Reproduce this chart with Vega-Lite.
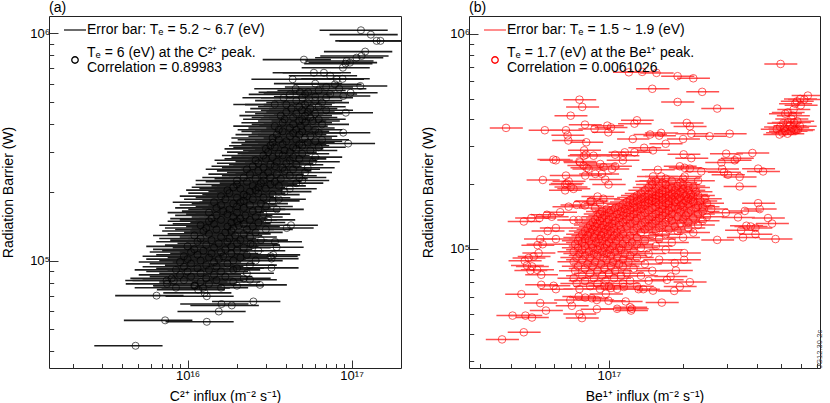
{
"$schema":"https://vega.github.io/schema/vega-lite/v6.json",
"padding":{"left":1,"top":0,"right":0,"bottom":0},
"spacing":19,
"config":{
 "font":"Liberation Sans",
 "view":{"stroke":"#222","strokeWidth":1},
 "axis":{"grid":false,"domain":false,"labelFont":"Liberation Sans","titleFont":"Liberation Sans","labelFontSize":13,"titleFontSize":14,"titleFontWeight":"normal","labelColor":"#000","titleColor":"#000","tickColor":"#333","tickWidth":1,"labelOverlap":false,"labelFlush":false},
 "title":{"fontSize":14,"fontWeight":"normal","anchor":"start","frame":"group","offset":1.5,"font":"Liberation Sans"}
},
"resolve":{"scale":{"stroke":"independent"},"legend":{"stroke":"independent"}},
"datasets":{
"a":[
{"x":8.5e15,"l":4.76e15,"h":1.24e16,"y":7.6e4},{"x":1.6e16,"l":8.96e15,"h":2.34e16,"y":7.6e4},
{"x":1.1e16,"l":6.16e15,"h":1.61e16,"y":7.75e4},{"x":2e16,"l":1.12e16,"h":2.92e16,"y":7.75e4},
{"x":7.5e15,"l":4.2e15,"h":1.1e16,"y":7.9e4},{"x":1.35e16,"l":7.56e15,"h":1.97e16,"y":7.9e4},
{"x":1.2e16,"l":6.72e15,"h":1.75e16,"y":8.05e4},{"x":1.9e16,"l":1.06e16,"h":2.77e16,"y":8.05e4},
{"x":9.5e15,"l":5.32e15,"h":1.39e16,"y":8.2e4},{"x":1.5e16,"l":8.4e15,"h":2.19e16,"y":8.2e4},
{"x":8e15,"l":4.48e15,"h":1.17e16,"y":8.35e4},{"x":1.3e16,"l":7.28e15,"h":1.9e16,"y":8.35e4},{"x":2.2e16,"l":1.23e16,"h":3.21e16,"y":8.35e4},
{"x":1.05e16,"l":5.88e15,"h":1.53e16,"y":8.5e4},{"x":1.7e16,"l":9.52e15,"h":2.48e16,"y":8.5e4},
{"x":9e15,"l":5.04e15,"h":1.31e16,"y":8.65e4},{"x":1.45e16,"l":8.12e15,"h":2.12e16,"y":8.65e4},
{"x":1.2e16,"l":6.72e15,"h":1.75e16,"y":8.8e4},{"x":2.3e16,"l":1.29e16,"h":3.36e16,"y":8.8e4},
{"x":1e16,"l":5.6e15,"h":1.46e16,"y":8.95e4},{"x":1.6e16,"l":8.96e15,"h":2.34e16,"y":8.95e4},
{"x":8.5e15,"l":4.76e15,"h":1.24e16,"y":9.1e4},{"x":1.35e16,"l":7.56e15,"h":1.97e16,"y":9.1e4},{"x":1.9e16,"l":1.06e16,"h":2.77e16,"y":9.1e4},
{"x":1.15e16,"l":6.44e15,"h":1.68e16,"y":9.25e4},{"x":2e16,"l":1.12e16,"h":2.92e16,"y":9.25e4},
{"x":9.5e15,"l":5.32e15,"h":1.39e16,"y":9.4e4},{"x":1.5e16,"l":8.4e15,"h":2.19e16,"y":9.4e4},
{"x":1.3e16,"l":7.28e15,"h":1.9e16,"y":9.55e4},{"x":2.4e16,"l":1.34e16,"h":3.5e16,"y":9.55e4},
{"x":1.05e16,"l":5.88e15,"h":1.53e16,"y":9.7e4},{"x":1.75e16,"l":9.8e15,"h":2.56e16,"y":9.7e4},
{"x":9e15,"l":5.04e15,"h":1.31e16,"y":9.85e4},{"x":1.45e16,"l":8.12e15,"h":2.12e16,"y":9.85e4},
{"x":1.2e16,"l":6.72e15,"h":1.75e16,"y":1e5},{"x":1.9e16,"l":1.06e16,"h":2.77e16,"y":1e5},{"x":2.6e16,"l":1.46e16,"h":3.8e16,"y":1e5},
{"x":1e16,"l":5.6e15,"h":1.46e16,"y":1.015e5},{"x":1.55e16,"l":8.68e15,"h":2.26e16,"y":1.015e5},
{"x":1.35e16,"l":7.56e15,"h":1.97e16,"y":1.03e5},{"x":2.1e16,"l":1.18e16,"h":3.07e16,"y":1.03e5},
{"x":9.5e15,"l":5.32e15,"h":1.39e16,"y":1.045e5},{"x":1.65e16,"l":9.24e15,"h":2.41e16,"y":1.045e5},
{"x":1.15e16,"l":6.44e15,"h":1.68e16,"y":1.06e5},{"x":2.3e16,"l":1.29e16,"h":3.36e16,"y":1.06e5},
{"x":1.4e16,"l":7.84e15,"h":2.04e16,"y":1.075e5},{"x":1.85e16,"l":1.04e16,"h":2.7e16,"y":1.075e5},
{"x":1.05e16,"l":5.88e15,"h":1.53e16,"y":1.09e5},{"x":1.6e16,"l":8.96e15,"h":2.34e16,"y":1.09e5},
{"x":1.25e16,"l":7e15,"h":1.83e16,"y":1.105e5},{"x":2e16,"l":1.12e16,"h":2.92e16,"y":1.105e5},{"x":2.7e16,"l":1.51e16,"h":3.94e16,"y":1.105e5},
{"x":1.1e16,"l":6.16e15,"h":1.61e16,"y":1.12e5},{"x":1.7e16,"l":9.52e15,"h":2.48e16,"y":1.12e5},
{"x":1.45e16,"l":8.12e15,"h":2.12e16,"y":1.14e5},{"x":2.2e16,"l":1.23e16,"h":3.21e16,"y":1.14e5},
{"x":1e16,"l":5.6e15,"h":1.46e16,"y":1.155e5},{"x":1.85e16,"l":1.04e16,"h":2.7e16,"y":1.155e5},
{"x":1.3e16,"l":7.28e15,"h":1.9e16,"y":1.17e5},{"x":2.5e16,"l":1.4e16,"h":3.65e16,"y":1.17e5},
{"x":1.55e16,"l":8.68e15,"h":2.26e16,"y":1.19e5},{"x":2e16,"l":1.12e16,"h":2.92e16,"y":1.19e5},
{"x":1.15e16,"l":6.44e15,"h":1.68e16,"y":1.21e5},{"x":1.75e16,"l":9.8e15,"h":2.56e16,"y":1.21e5},
{"x":1.4e16,"l":7.84e15,"h":2.04e16,"y":1.23e5},{"x":2.1e16,"l":1.18e16,"h":3.07e16,"y":1.23e5},{"x":2.8e16,"l":1.57e16,"h":4.09e16,"y":1.23e5},
{"x":1.2e16,"l":6.72e15,"h":1.75e16,"y":1.25e5},{"x":1.8e16,"l":1.01e16,"h":2.63e16,"y":1.25e5},
{"x":1.6e16,"l":8.96e15,"h":2.34e16,"y":1.27e5},{"x":2.4e16,"l":1.34e16,"h":3.5e16,"y":1.27e5},
{"x":1.1e16,"l":6.16e15,"h":1.61e16,"y":1.29e5},{"x":1.95e16,"l":1.09e16,"h":2.85e16,"y":1.29e5},
{"x":1.35e16,"l":7.56e15,"h":1.97e16,"y":1.31e5},{"x":2.2e16,"l":1.23e16,"h":3.21e16,"y":1.31e5},
{"x":1.7e16,"l":9.52e15,"h":2.48e16,"y":1.33e5},{"x":2.6e16,"l":1.46e16,"h":3.8e16,"y":1.33e5},
{"x":1.25e16,"l":7e15,"h":1.83e16,"y":1.35e5},{"x":1.85e16,"l":1.04e16,"h":2.7e16,"y":1.35e5},
{"x":1.5e16,"l":8.4e15,"h":2.19e16,"y":1.37e5},{"x":2.3e16,"l":1.29e16,"h":3.36e16,"y":1.37e5},{"x":3e16,"l":1.68e16,"h":4.38e16,"y":1.37e5},
{"x":1.3e16,"l":7.28e15,"h":1.9e16,"y":1.39e5},{"x":1.9e16,"l":1.06e16,"h":2.77e16,"y":1.39e5},
{"x":1.75e16,"l":9.8e15,"h":2.56e16,"y":1.41e5},{"x":2.5e16,"l":1.4e16,"h":3.65e16,"y":1.41e5},
{"x":1.2e16,"l":6.72e15,"h":1.75e16,"y":1.43e5},{"x":2.05e16,"l":1.15e16,"h":2.99e16,"y":1.43e5},
{"x":1.45e16,"l":8.12e15,"h":2.12e16,"y":1.45e5},{"x":2.2e16,"l":1.23e16,"h":3.21e16,"y":1.45e5},
{"x":1.85e16,"l":1.04e16,"h":2.7e16,"y":1.47e5},{"x":2.7e16,"l":1.51e16,"h":3.94e16,"y":1.47e5},
{"x":1.35e16,"l":7.56e15,"h":1.97e16,"y":1.49e5},{"x":2e16,"l":1.12e16,"h":2.92e16,"y":1.49e5},
{"x":1.6e16,"l":8.96e15,"h":2.34e16,"y":1.51e5},{"x":2.4e16,"l":1.34e16,"h":3.5e16,"y":1.51e5},{"x":3.1e16,"l":1.74e16,"h":4.53e16,"y":1.51e5},
{"x":1.4e16,"l":7.84e15,"h":2.04e16,"y":1.53e5},{"x":2.1e16,"l":1.18e16,"h":3.07e16,"y":1.53e5},
{"x":1.9e16,"l":1.06e16,"h":2.77e16,"y":1.555e5},{"x":2.6e16,"l":1.46e16,"h":3.8e16,"y":1.555e5},
{"x":1.5e16,"l":8.4e15,"h":2.19e16,"y":1.58e5},{"x":2.25e16,"l":1.26e16,"h":3.29e16,"y":1.58e5},
{"x":1.75e16,"l":9.8e15,"h":2.56e16,"y":1.6e5},{"x":2.9e16,"l":1.62e16,"h":4.23e16,"y":1.6e5},
{"x":1.35e16,"l":7.56e15,"h":1.97e16,"y":1.625e5},{"x":2e16,"l":1.12e16,"h":2.92e16,"y":1.625e5},
{"x":1.65e16,"l":9.24e15,"h":2.41e16,"y":1.65e5},{"x":2.5e16,"l":1.4e16,"h":3.65e16,"y":1.65e5},
{"x":1.8e16,"l":1.01e16,"h":2.63e16,"y":1.68e5},{"x":2.7e16,"l":1.51e16,"h":3.94e16,"y":1.68e5},{"x":3.5e16,"l":1.96e16,"h":5.11e16,"y":1.68e5},
{"x":1.5e16,"l":8.4e15,"h":2.19e16,"y":1.705e5},{"x":2.2e16,"l":1.23e16,"h":3.21e16,"y":1.705e5},
{"x":2e16,"l":1.12e16,"h":2.92e16,"y":1.73e5},{"x":3e16,"l":1.68e16,"h":4.38e16,"y":1.73e5},
{"x":1.6e16,"l":8.96e15,"h":2.34e16,"y":1.755e5},{"x":2.4e16,"l":1.34e16,"h":3.5e16,"y":1.755e5},
{"x":1.9e16,"l":1.06e16,"h":2.77e16,"y":1.78e5},{"x":2.8e16,"l":1.57e16,"h":4.09e16,"y":1.78e5},
{"x":1.45e16,"l":8.12e15,"h":2.12e16,"y":1.805e5},{"x":2.1e16,"l":1.18e16,"h":3.07e16,"y":1.805e5},
{"x":2.2e16,"l":1.23e16,"h":3.21e16,"y":1.83e5},{"x":3.3e16,"l":1.85e16,"h":4.82e16,"y":1.83e5},
{"x":1.7e16,"l":9.52e15,"h":2.48e16,"y":1.86e5},{"x":2.5e16,"l":1.4e16,"h":3.65e16,"y":1.86e5},{"x":3.6e16,"l":2.02e16,"h":5.26e16,"y":1.86e5},
{"x":2e16,"l":1.12e16,"h":2.92e16,"y":1.89e5},{"x":2.9e16,"l":1.62e16,"h":4.23e16,"y":1.89e5},
{"x":1.6e16,"l":8.96e15,"h":2.34e16,"y":1.92e5},{"x":2.3e16,"l":1.29e16,"h":3.36e16,"y":1.92e5},
{"x":2.2e16,"l":1.23e16,"h":3.21e16,"y":1.95e5},{"x":3.3e16,"l":1.85e16,"h":4.82e16,"y":1.95e5},
{"x":1.8e16,"l":1.01e16,"h":2.63e16,"y":1.98e5},{"x":2.7e16,"l":1.51e16,"h":3.94e16,"y":1.98e5},
{"x":2.4e16,"l":1.34e16,"h":3.5e16,"y":2.01e5},{"x":3.9e16,"l":2.18e16,"h":5.69e16,"y":2.01e5},
{"x":1.75e16,"l":9.8e15,"h":2.56e16,"y":2.04e5},{"x":2.6e16,"l":1.46e16,"h":3.8e16,"y":2.04e5},
{"x":2.1e16,"l":1.18e16,"h":3.07e16,"y":2.07e5},{"x":3e16,"l":1.68e16,"h":4.38e16,"y":2.07e5},{"x":4.2e16,"l":2.35e16,"h":6.13e16,"y":2.07e5},
{"x":1.9e16,"l":1.06e16,"h":2.77e16,"y":2.1e5},{"x":2.7e16,"l":1.51e16,"h":3.94e16,"y":2.1e5},
{"x":2.5e16,"l":1.4e16,"h":3.65e16,"y":2.13e5},{"x":3.6e16,"l":2.02e16,"h":5.26e16,"y":2.13e5},
{"x":2e16,"l":1.12e16,"h":2.92e16,"y":2.16e5},{"x":3.2e16,"l":1.79e16,"h":4.67e16,"y":2.16e5},
{"x":2.8e16,"l":1.57e16,"h":4.09e16,"y":2.19e5},{"x":4.6e16,"l":2.58e16,"h":6.72e16,"y":2.19e5},
{"x":2.3e16,"l":1.29e16,"h":3.36e16,"y":2.22e5},{"x":3.4e16,"l":1.9e16,"h":4.96e16,"y":2.22e5},
{"x":2e16,"l":1.12e16,"h":2.92e16,"y":2.25e5},{"x":2.9e16,"l":1.62e16,"h":4.23e16,"y":2.25e5},{"x":5e16,"l":2.8e16,"h":7.3e16,"y":2.25e5},
{"x":2.6e16,"l":1.46e16,"h":3.8e16,"y":2.29e5},{"x":3.7e16,"l":2.07e16,"h":5.4e16,"y":2.29e5},
{"x":2.2e16,"l":1.23e16,"h":3.21e16,"y":2.32e5},{"x":3.2e16,"l":1.79e16,"h":4.67e16,"y":2.32e5},{"x":4.8e16,"l":2.69e16,"h":7.01e16,"y":2.32e5},
{"x":2.9e16,"l":1.62e16,"h":4.23e16,"y":2.36e5},{"x":4.2e16,"l":2.35e16,"h":6.13e16,"y":2.36e5},
{"x":2.4e16,"l":1.34e16,"h":3.5e16,"y":2.4e5},{"x":3.5e16,"l":1.96e16,"h":5.11e16,"y":2.4e5},
{"x":3.1e16,"l":1.74e16,"h":4.53e16,"y":2.44e5},{"x":5.2e16,"l":2.91e16,"h":7.59e16,"y":2.44e5},
{"x":2.7e16,"l":1.51e16,"h":3.94e16,"y":2.48e5},{"x":3.9e16,"l":2.18e16,"h":5.69e16,"y":2.48e5},
{"x":2.3e16,"l":1.29e16,"h":3.36e16,"y":2.52e5},{"x":4.4e16,"l":2.46e16,"h":6.42e16,"y":2.52e5},
{"x":2.9e16,"l":1.62e16,"h":4.23e16,"y":2.56e5},{"x":3.8e16,"l":2.13e16,"h":5.55e16,"y":2.56e5},{"x":5.4e16,"l":3.02e16,"h":7.88e16,"y":2.56e5},
{"x":2.5e16,"l":1.4e16,"h":3.65e16,"y":2.6e5},{"x":3.4e16,"l":1.9e16,"h":4.96e16,"y":2.6e5},
{"x":3.2e16,"l":1.79e16,"h":4.67e16,"y":2.64e5},{"x":4.6e16,"l":2.58e16,"h":6.72e16,"y":2.64e5},
{"x":2.7e16,"l":1.51e16,"h":3.94e16,"y":2.68e5},{"x":4e16,"l":2.24e16,"h":5.84e16,"y":2.68e5},
{"x":3.5e16,"l":1.96e16,"h":5.11e16,"y":2.72e5},{"x":5.8e16,"l":3.25e16,"h":8.47e16,"y":2.72e5},
{"x":2.6e16,"l":1.46e16,"h":3.8e16,"y":2.76e5},{"x":4.2e16,"l":2.35e16,"h":6.13e16,"y":2.76e5},
{"x":3e16,"l":1.68e16,"h":4.38e16,"y":2.8e5},{"x":4.8e16,"l":2.69e16,"h":7.01e16,"y":2.8e5},
{"x":3.3e16,"l":1.85e16,"h":4.82e16,"y":2.85e5},{"x":4.4e16,"l":2.46e16,"h":6.42e16,"y":2.85e5},{"x":6e16,"l":3.36e16,"h":8.76e16,"y":2.85e5},
{"x":2.9e16,"l":1.62e16,"h":4.23e16,"y":2.9e5},{"x":3.8e16,"l":2.13e16,"h":5.55e16,"y":2.9e5},
{"x":3.6e16,"l":2.02e16,"h":5.26e16,"y":2.95e5},{"x":5e16,"l":2.8e16,"h":7.3e16,"y":2.95e5},
{"x":3.1e16,"l":1.74e16,"h":4.53e16,"y":3e5},{"x":4.2e16,"l":2.35e16,"h":6.13e16,"y":3e5},
{"x":3.9e16,"l":2.18e16,"h":5.69e16,"y":3.05e5},{"x":5.6e16,"l":3.14e16,"h":8.18e16,"y":3.05e5},
{"x":3e16,"l":1.68e16,"h":4.38e16,"y":3.1e5},{"x":4.6e16,"l":2.58e16,"h":6.72e16,"y":3.1e5},
{"x":3.4e16,"l":1.9e16,"h":4.96e16,"y":3.15e5},{"x":4.4e16,"l":2.46e16,"h":6.42e16,"y":3.15e5},{"x":6.3e16,"l":3.53e16,"h":9.2e16,"y":3.15e5},
{"x":3.2e16,"l":1.79e16,"h":4.67e16,"y":3.2e5},{"x":5e16,"l":2.8e16,"h":7.3e16,"y":3.2e5},
{"x":3.8e16,"l":2.13e16,"h":5.55e16,"y":3.25e5},{"x":4.8e16,"l":2.69e16,"h":7.01e16,"y":3.25e5},
{"x":3.3e16,"l":1.85e16,"h":4.82e16,"y":3.3e5},{"x":5.4e16,"l":3.02e16,"h":7.88e16,"y":3.3e5},
{"x":4e16,"l":2.24e16,"h":5.84e16,"y":3.35e5},{"x":6e16,"l":3.36e16,"h":8.76e16,"y":3.35e5},
{"x":3.6e16,"l":2.02e16,"h":5.26e16,"y":3.4e5},{"x":4.6e16,"l":2.58e16,"h":6.72e16,"y":3.4e5},{"x":6.6e16,"l":3.7e16,"h":9.64e16,"y":3.4e5},
{"x":3.3e16,"l":1.85e16,"h":4.82e16,"y":3.46e5},{"x":5.2e16,"l":2.91e16,"h":7.59e16,"y":3.46e5},
{"x":4.2e16,"l":2.35e16,"h":6.13e16,"y":3.52e5},{"x":5.6e16,"l":3.14e16,"h":8.18e16,"y":3.52e5},
{"x":3.5e16,"l":1.96e16,"h":5.11e16,"y":3.58e5},{"x":4.8e16,"l":2.69e16,"h":7.01e16,"y":3.58e5},
{"x":4.4e16,"l":2.46e16,"h":6.42e16,"y":3.64e5},{"x":6.3e16,"l":3.53e16,"h":9.2e16,"y":3.64e5},
{"x":3.8e16,"l":2.13e16,"h":5.55e16,"y":3.7e5},{"x":5e16,"l":2.8e16,"h":7.3e16,"y":3.7e5},
{"x":3.6e16,"l":2.02e16,"h":5.26e16,"y":3.76e5},{"x":4.6e16,"l":2.58e16,"h":6.72e16,"y":3.76e5},{"x":6e16,"l":3.36e16,"h":8.76e16,"y":3.76e5},
{"x":4.2e16,"l":2.35e16,"h":6.13e16,"y":3.83e5},{"x":5.4e16,"l":3.02e16,"h":7.88e16,"y":3.83e5},
{"x":3.4e16,"l":1.9e16,"h":4.96e16,"y":3.9e5},{"x":4.9e16,"l":2.74e16,"h":7.15e16,"y":3.9e5},
{"x":4.4e16,"l":2.46e16,"h":6.42e16,"y":3.97e5},{"x":6.6e16,"l":3.7e16,"h":9.64e16,"y":3.97e5},
{"x":3.8e16,"l":2.13e16,"h":5.55e16,"y":4.04e5},{"x":5.2e16,"l":2.91e16,"h":7.59e16,"y":4.04e5},
{"x":4.8e16,"l":2.69e16,"h":7.01e16,"y":4.11e5},{"x":5.8e16,"l":3.25e16,"h":8.47e16,"y":4.11e5},
{"x":3.9e16,"l":2.18e16,"h":5.69e16,"y":4.18e5},{"x":5e16,"l":2.8e16,"h":7.3e16,"y":4.18e5},{"x":6.3e16,"l":3.53e16,"h":9.2e16,"y":4.18e5},
{"x":4.4e16,"l":2.46e16,"h":6.42e16,"y":4.26e5},{"x":5.6e16,"l":3.14e16,"h":8.18e16,"y":4.26e5},
{"x":3.7e16,"l":2.07e16,"h":5.4e16,"y":4.34e5},{"x":5.2e16,"l":2.91e16,"h":7.59e16,"y":4.34e5},
{"x":4.6e16,"l":2.58e16,"h":6.72e16,"y":4.42e5},{"x":6e16,"l":3.36e16,"h":8.76e16,"y":4.42e5},
{"x":4e16,"l":2.24e16,"h":5.84e16,"y":4.5e5},{"x":5.4e16,"l":3.02e16,"h":7.88e16,"y":4.5e5},
{"x":5e16,"l":2.8e16,"h":7.3e16,"y":4.58e5},{"x":7e16,"l":3.92e16,"h":1.02e17,"y":4.58e5},
{"x":4.3e16,"l":2.41e16,"h":6.28e16,"y":4.66e5},{"x":5.6e16,"l":3.14e16,"h":8.18e16,"y":4.66e5},
{"x":4.8e16,"l":2.69e16,"h":7.01e16,"y":4.75e5},{"x":6.3e16,"l":3.53e16,"h":9.2e16,"y":4.75e5},
{"x":4e16,"l":2.24e16,"h":5.84e16,"y":4.85e5},{"x":5.2e16,"l":2.91e16,"h":7.59e16,"y":4.85e5},
{"x":5.4e16,"l":3.02e16,"h":7.88e16,"y":4.95e5},{"x":6.6e16,"l":3.7e16,"h":9.64e16,"y":4.95e5},
{"x":4.6e16,"l":2.58e16,"h":6.72e16,"y":5.05e5},{"x":6e16,"l":3.36e16,"h":8.76e16,"y":5.05e5},
{"x":1.14e17,"l":6.38e16,"h":1.66e17,"y":1.03e6},
{"x":1.31e17,"l":7.34e16,"h":1.91e17,"y":9.85e5},
{"x":1.42e17,"l":7.95e16,"h":2.07e17,"y":9.25e5},
{"x":1.5e17,"l":8.4e16,"h":2.19e17,"y":9.25e5},
{"x":5.12e16,"l":2.87e16,"h":7.48e16,"y":7.65e5},
{"x":9.33e16,"l":5.22e16,"h":1.36e17,"y":7.55e5},
{"x":9.77e16,"l":5.47e16,"h":1.43e17,"y":7.42e5},
{"x":1.07e17,"l":5.99e16,"h":1.56e17,"y":7.8e5},
{"x":1.15e17,"l":6.44e16,"h":1.68e17,"y":7.94e5},
{"x":1.21e17,"l":6.78e16,"h":1.77e17,"y":8.3e5},
{"x":8.85e16,"l":4.96e16,"h":1.29e17,"y":7.05e5},
{"x":9.18e16,"l":5.14e16,"h":1.34e17,"y":7.35e5},
{"x":5.89e16,"l":3.3e16,"h":8.6e16,"y":6.7e5},
{"x":6.78e16,"l":3.8e16,"h":9.9e16,"y":6.7e5},
{"x":4.37e16,"l":2.45e16,"h":6.38e16,"y":6.27e5},
{"x":8.13e16,"l":4.55e16,"h":1.19e17,"y":6.27e5},
{"x":8.81e16,"l":4.93e16,"h":1.29e17,"y":6.3e5},
{"x":1.13e17,"l":6.33e16,"h":1.65e17,"y":5.86e5},
{"x":7.91e16,"l":4.43e16,"h":1.15e17,"y":5.96e5},
{"x":8.4e16,"l":4.7e16,"h":1.23e17,"y":5.7e5},
{"x":4.56e16,"l":2.55e16,"h":6.66e16,"y":5.7e5},
{"x":4.21e16,"l":2.36e16,"h":6.15e16,"y":5.38e5},
{"x":3.85e16,"l":2.16e16,"h":5.62e16,"y":5.2e5},
{"x":3.4e16,"l":1.9e16,"h":4.96e16,"y":4.86e5},
{"x":9.86e16,"l":5.52e16,"h":1.44e17,"y":5.47e5},
{"x":8.89e16,"l":4.98e16,"h":1.3e17,"y":5.29e5},
{"x":4.84e16,"l":2.71e16,"h":7.07e16,"y":5.5e5},
{"x":5.43e16,"l":3.04e16,"h":7.93e16,"y":5.5e5},
{"x":9.22e16,"l":5.16e16,"h":1.35e17,"y":4.47e5},
{"x":8.89e16,"l":4.98e16,"h":1.3e17,"y":3.65e5},
{"x":9.53e16,"l":5.34e16,"h":1.39e17,"y":3.27e5},
{"x":6.3e16,"l":3.53e16,"h":9.2e16,"y":5.6e5},
{"x":7e16,"l":3.92e16,"h":1.02e17,"y":5.8e5},
{"x":6e16,"l":3.36e16,"h":8.76e16,"y":6e5},
{"x":7.4e16,"l":4.14e16,"h":1.08e17,"y":6.5e5},
{"x":5.2e16,"l":2.91e16,"h":7.59e16,"y":5.4e5},
{"x":7.4e16,"l":4.14e16,"h":1.08e17,"y":5.4e5},
{"x":6e16,"l":3.36e16,"h":8.76e16,"y":5.25e5},
{"x":5e16,"l":2.8e16,"h":7.3e16,"y":5.2e5},
{"x":7e16,"l":3.92e16,"h":1.02e17,"y":5.2e5},
{"x":4.82e15,"l":2.7e15,"h":7.04e15,"y":4.22e4},
{"x":7.3e15,"l":4.09e15,"h":1.07e16,"y":5.46e4},
{"x":1.31e16,"l":7.34e15,"h":1.91e16,"y":5.38e4},
{"x":6.47e15,"l":3.62e15,"h":9.45e15,"y":7.01e4},
{"x":1.31e16,"l":7.34e15,"h":1.91e16,"y":6.97e4},
{"x":1.55e16,"l":8.68e15,"h":2.26e16,"y":5.97e4},
{"x":1.61e16,"l":9.02e15,"h":2.35e16,"y":6.44e4},
{"x":1.86e16,"l":1.04e16,"h":2.72e16,"y":6.35e4},
{"x":2.52e16,"l":1.41e16,"h":3.68e16,"y":6.61e4},
{"x":7.45e15,"l":4.17e15,"h":1.09e16,"y":8.17e4},
{"x":8.25e15,"l":4.62e15,"h":1.2e16,"y":8.17e4},
{"x":1.11e16,"l":6.22e15,"h":1.62e16,"y":7.76e4},
{"x":1.16e16,"l":6.5e15,"h":1.69e16,"y":7.45e4},
{"x":1.24e16,"l":6.94e15,"h":1.81e16,"y":7.58e4},
{"x":1.27e16,"l":7.11e15,"h":1.85e16,"y":7.21e4},
{"x":2.4e16,"l":1.34e16,"h":3.5e16,"y":8.24e4},
{"x":2.76e16,"l":1.55e16,"h":4.03e16,"y":7.82e4},
{"x":3.25e16,"l":1.82e16,"h":4.75e16,"y":9.29e4},
{"x":3.21e16,"l":1.8e16,"h":4.69e16,"y":1.045e5},
{"x":3.33e16,"l":1.86e16,"h":4.86e16,"y":1.06e5},
{"x":3.49e16,"l":1.95e16,"h":5.1e16,"y":1.145e5},
{"x":3.41e16,"l":1.91e16,"h":4.98e16,"y":1.21e5},
{"x":3.25e16,"l":1.82e16,"h":4.75e16,"y":1.02e5},
{"x":4.02e16,"l":2.25e16,"h":5.87e16,"y":1.39e5},
{"x":4.27e16,"l":2.39e16,"h":6.23e16,"y":1.43e5},
{"x":2.42e16,"l":1.36e16,"h":3.53e16,"y":1.185e5}
],
"b":[
{"x":7.6e16,"l":6.54e16,"h":8.89e16,"y":6.5e4},{"x":9.2e16,"l":7.91e16,"h":1.08e17,"y":6.5e4},{"x":1.08e17,"l":9.29e16,"h":1.26e17,"y":6.5e4},
{"x":8.4e16,"l":7.22e16,"h":9.83e16,"y":6.7e4},{"x":1e17,"l":8.6e16,"h":1.17e17,"y":6.7e4},{"x":1.3e17,"l":1.12e17,"h":1.52e17,"y":6.7e4},
{"x":7.4e16,"l":6.36e16,"h":8.66e16,"y":6.9e4},{"x":9e16,"l":7.74e16,"h":1.05e17,"y":6.9e4},{"x":1.14e17,"l":9.8e16,"h":1.33e17,"y":6.9e4},
{"x":8e16,"l":6.88e16,"h":9.36e16,"y":7.1e4},{"x":9.7e16,"l":8.34e16,"h":1.13e17,"y":7.1e4},{"x":1.22e17,"l":1.05e17,"h":1.43e17,"y":7.1e4},{"x":1.45e17,"l":1.25e17,"h":1.7e17,"y":7.1e4},
{"x":7.2e16,"l":6.19e16,"h":8.42e16,"y":7.3e4},{"x":8.7e16,"l":7.48e16,"h":1.02e17,"y":7.3e4},{"x":1.05e17,"l":9.03e16,"h":1.23e17,"y":7.3e4},
{"x":7.8e16,"l":6.71e16,"h":9.13e16,"y":7.5e4},{"x":9.4e16,"l":8.08e16,"h":1.1e17,"y":7.5e4},{"x":1.12e17,"l":9.63e16,"h":1.31e17,"y":7.5e4},{"x":1.35e17,"l":1.16e17,"h":1.58e17,"y":7.5e4},
{"x":8.4e16,"l":7.22e16,"h":9.83e16,"y":7.7e4},{"x":1e17,"l":8.6e16,"h":1.17e17,"y":7.7e4},{"x":1.18e17,"l":1.01e17,"h":1.38e17,"y":7.7e4},
{"x":7.3e16,"l":6.28e16,"h":8.54e16,"y":7.9e4},{"x":9e16,"l":7.74e16,"h":1.05e17,"y":7.9e4},{"x":1.06e17,"l":9.12e16,"h":1.24e17,"y":7.9e4},{"x":1.5e17,"l":1.29e17,"h":1.76e17,"y":7.9e4},
{"x":8e16,"l":6.88e16,"h":9.36e16,"y":8.1e4},{"x":9.6e16,"l":8.26e16,"h":1.12e17,"y":8.1e4},{"x":1.26e17,"l":1.08e17,"h":1.47e17,"y":8.1e4},
{"x":7.5e16,"l":6.45e16,"h":8.78e16,"y":8.3e4},{"x":8.6e16,"l":7.4e16,"h":1.01e17,"y":8.3e4},{"x":1.02e17,"l":8.77e16,"h":1.19e17,"y":8.3e4},{"x":1.14e17,"l":9.8e16,"h":1.33e17,"y":8.3e4},
{"x":8.2e16,"l":7.05e16,"h":9.59e16,"y":8.5e4},{"x":9.3e16,"l":8e16,"h":1.09e17,"y":8.5e4},{"x":1.1e17,"l":9.46e16,"h":1.29e17,"y":8.5e4},{"x":1.4e17,"l":1.2e17,"h":1.64e17,"y":8.5e4},
{"x":7.2e16,"l":6.19e16,"h":8.42e16,"y":8.7e4},{"x":8.8e16,"l":7.57e16,"h":1.03e17,"y":8.7e4},{"x":1.04e17,"l":8.94e16,"h":1.22e17,"y":8.7e4},{"x":1.2e17,"l":1.03e17,"h":1.4e17,"y":8.7e4},
{"x":7.8e16,"l":6.71e16,"h":9.13e16,"y":8.9e4},{"x":9.8e16,"l":8.43e16,"h":1.15e17,"y":8.9e4},{"x":1.14e17,"l":9.8e16,"h":1.33e17,"y":8.9e4},{"x":1.6e17,"l":1.38e17,"h":1.87e17,"y":8.9e4},
{"x":7.4e16,"l":6.36e16,"h":8.66e16,"y":9.1e4},{"x":8.4e16,"l":7.22e16,"h":9.83e16,"y":9.1e4},{"x":9.5e16,"l":8.17e16,"h":1.11e17,"y":9.1e4},{"x":1.08e17,"l":9.29e16,"h":1.26e17,"y":9.1e4},{"x":1.3e17,"l":1.12e17,"h":1.52e17,"y":9.1e4},
{"x":8e16,"l":6.88e16,"h":9.36e16,"y":9.3e4},{"x":9e16,"l":7.74e16,"h":1.05e17,"y":9.3e4},{"x":1.02e17,"l":8.77e16,"h":1.19e17,"y":9.3e4},{"x":1.22e17,"l":1.05e17,"h":1.43e17,"y":9.3e4},
{"x":7.6e16,"l":6.54e16,"h":8.89e16,"y":9.5e4},{"x":8.7e16,"l":7.48e16,"h":1.02e17,"y":9.5e4},{"x":9.8e16,"l":8.43e16,"h":1.15e17,"y":9.5e4},{"x":1.16e17,"l":9.98e16,"h":1.36e17,"y":9.5e4},{"x":1.45e17,"l":1.25e17,"h":1.7e17,"y":9.5e4},
{"x":7.2e16,"l":6.19e16,"h":8.42e16,"y":9.7e4},{"x":8.3e16,"l":7.14e16,"h":9.71e16,"y":9.7e4},{"x":9.4e16,"l":8.08e16,"h":1.1e17,"y":9.7e4},{"x":1.06e17,"l":9.12e16,"h":1.24e17,"y":9.7e4},{"x":1.26e17,"l":1.08e17,"h":1.47e17,"y":9.7e4},
{"x":7.8e16,"l":6.71e16,"h":9.13e16,"y":9.9e4},{"x":9e16,"l":7.74e16,"h":1.05e17,"y":9.9e4},{"x":1.01e17,"l":8.69e16,"h":1.18e17,"y":9.9e4},{"x":1.12e17,"l":9.63e16,"h":1.31e17,"y":9.9e4},{"x":1.7e17,"l":1.46e17,"h":1.99e17,"y":9.9e4},
{"x":7.5e16,"l":6.45e16,"h":8.78e16,"y":1.01e5},{"x":8.6e16,"l":7.4e16,"h":1.01e17,"y":1.01e5},{"x":9.6e16,"l":8.26e16,"h":1.12e17,"y":1.01e5},{"x":1.1e17,"l":9.46e16,"h":1.29e17,"y":1.01e5},{"x":1.35e17,"l":1.16e17,"h":1.58e17,"y":1.01e5},
{"x":8e16,"l":6.88e16,"h":9.36e16,"y":1.03e5},{"x":9.2e16,"l":7.91e16,"h":1.08e17,"y":1.03e5},{"x":1.04e17,"l":8.94e16,"h":1.22e17,"y":1.03e5},{"x":1.2e17,"l":1.03e17,"h":1.4e17,"y":1.03e5},{"x":1.55e17,"l":1.33e17,"h":1.81e17,"y":1.03e5},
{"x":7.3e16,"l":6.28e16,"h":8.54e16,"y":1.05e5},{"x":8.5e16,"l":7.31e16,"h":9.95e16,"y":1.05e5},{"x":9.8e16,"l":8.43e16,"h":1.15e17,"y":1.05e5},{"x":1.14e17,"l":9.8e16,"h":1.33e17,"y":1.05e5},{"x":1.3e17,"l":1.12e17,"h":1.52e17,"y":1.05e5},
{"x":7.8e16,"l":6.71e16,"h":9.13e16,"y":1.07e5},{"x":8.9e16,"l":7.65e16,"h":1.04e17,"y":1.07e5},{"x":1e17,"l":8.6e16,"h":1.17e17,"y":1.07e5},{"x":1.24e17,"l":1.07e17,"h":1.45e17,"y":1.07e5},{"x":1.8e17,"l":1.55e17,"h":2.11e17,"y":1.07e5},
{"x":7.5e16,"l":6.45e16,"h":8.78e16,"y":1.09e5},{"x":8.3e16,"l":7.14e16,"h":9.71e16,"y":1.09e5},{"x":9.4e16,"l":8.08e16,"h":1.1e17,"y":1.09e5},{"x":1.07e17,"l":9.2e16,"h":1.25e17,"y":1.09e5},{"x":1.4e17,"l":1.2e17,"h":1.64e17,"y":1.09e5},
{"x":8e16,"l":6.88e16,"h":9.36e16,"y":1.11e5},{"x":9.1e16,"l":7.83e16,"h":1.06e17,"y":1.11e5},{"x":1.02e17,"l":8.77e16,"h":1.19e17,"y":1.11e5},{"x":1.18e17,"l":1.01e17,"h":1.38e17,"y":1.11e5},{"x":1.6e17,"l":1.38e17,"h":1.87e17,"y":1.11e5},
{"x":7.6e16,"l":6.54e16,"h":8.89e16,"y":1.13e5},{"x":8.7e16,"l":7.48e16,"h":1.02e17,"y":1.13e5},{"x":9.7e16,"l":8.34e16,"h":1.13e17,"y":1.13e5},{"x":1.1e17,"l":9.46e16,"h":1.29e17,"y":1.13e5},{"x":1.3e17,"l":1.12e17,"h":1.52e17,"y":1.13e5},{"x":2e17,"l":1.72e17,"h":2.34e17,"y":1.13e5},
{"x":8.2e16,"l":7.05e16,"h":9.59e16,"y":1.15e5},{"x":9.3e16,"l":8e16,"h":1.09e17,"y":1.15e5},{"x":1.05e17,"l":9.03e16,"h":1.23e17,"y":1.15e5},{"x":1.22e17,"l":1.05e17,"h":1.43e17,"y":1.15e5},{"x":1.5e17,"l":1.29e17,"h":1.76e17,"y":1.15e5},
{"x":7.8e16,"l":6.71e16,"h":9.13e16,"y":1.17e5},{"x":8.8e16,"l":7.57e16,"h":1.03e17,"y":1.17e5},{"x":9.9e16,"l":8.51e16,"h":1.16e17,"y":1.17e5},{"x":1.14e17,"l":9.8e16,"h":1.33e17,"y":1.17e5},{"x":1.7e17,"l":1.46e17,"h":1.99e17,"y":1.17e5},
{"x":8.4e16,"l":7.22e16,"h":9.83e16,"y":1.19e5},{"x":9.5e16,"l":8.17e16,"h":1.11e17,"y":1.19e5},{"x":1.08e17,"l":9.29e16,"h":1.26e17,"y":1.19e5},{"x":1.35e17,"l":1.16e17,"h":1.58e17,"y":1.19e5},{"x":2.2e17,"l":1.89e17,"h":2.57e17,"y":1.19e5},
{"x":8e16,"l":6.88e16,"h":9.36e16,"y":1.21e5},{"x":9e16,"l":7.74e16,"h":1.05e17,"y":1.21e5},{"x":1.02e17,"l":8.77e16,"h":1.19e17,"y":1.21e5},{"x":1.26e17,"l":1.08e17,"h":1.47e17,"y":1.21e5},{"x":1.55e17,"l":1.33e17,"h":1.81e17,"y":1.21e5},{"x":1.9e17,"l":1.63e17,"h":2.22e17,"y":1.21e5},
{"x":8.6e16,"l":7.4e16,"h":1.01e17,"y":1.23e5},{"x":9.7e16,"l":8.34e16,"h":1.13e17,"y":1.23e5},{"x":1.12e17,"l":9.63e16,"h":1.31e17,"y":1.23e5},{"x":1.4e17,"l":1.2e17,"h":1.64e17,"y":1.23e5},{"x":1.75e17,"l":1.51e17,"h":2.05e17,"y":1.23e5},
{"x":8.2e16,"l":7.05e16,"h":9.59e16,"y":1.25e5},{"x":9.3e16,"l":8e16,"h":1.09e17,"y":1.25e5},{"x":1.05e17,"l":9.03e16,"h":1.23e17,"y":1.25e5},{"x":1.3e17,"l":1.12e17,"h":1.52e17,"y":1.25e5},{"x":1.6e17,"l":1.38e17,"h":1.87e17,"y":1.25e5},{"x":2.1e17,"l":1.81e17,"h":2.46e17,"y":1.25e5},
{"x":8.8e16,"l":7.57e16,"h":1.03e17,"y":1.27e5},{"x":1e17,"l":8.6e16,"h":1.17e17,"y":1.27e5},{"x":1.18e17,"l":1.01e17,"h":1.38e17,"y":1.27e5},{"x":1.45e17,"l":1.25e17,"h":1.7e17,"y":1.27e5},{"x":1.85e17,"l":1.59e17,"h":2.16e17,"y":1.27e5},
{"x":8.4e16,"l":7.22e16,"h":9.83e16,"y":1.29e5},{"x":9.5e16,"l":8.17e16,"h":1.11e17,"y":1.29e5},{"x":1.1e17,"l":9.46e16,"h":1.29e17,"y":1.29e5},{"x":1.35e17,"l":1.16e17,"h":1.58e17,"y":1.29e5},{"x":1.65e17,"l":1.42e17,"h":1.93e17,"y":1.29e5},{"x":2.3e17,"l":1.98e17,"h":2.69e17,"y":1.29e5},
{"x":9e16,"l":7.74e16,"h":1.05e17,"y":1.31e5},{"x":1.03e17,"l":8.86e16,"h":1.21e17,"y":1.31e5},{"x":1.22e17,"l":1.05e17,"h":1.43e17,"y":1.31e5},{"x":1.5e17,"l":1.29e17,"h":1.76e17,"y":1.31e5},{"x":1.95e17,"l":1.68e17,"h":2.28e17,"y":1.31e5},
{"x":8.6e16,"l":7.4e16,"h":1.01e17,"y":1.33e5},{"x":9.8e16,"l":8.43e16,"h":1.15e17,"y":1.33e5},{"x":1.14e17,"l":9.8e16,"h":1.33e17,"y":1.33e5},{"x":1.4e17,"l":1.2e17,"h":1.64e17,"y":1.33e5},{"x":1.7e17,"l":1.46e17,"h":1.99e17,"y":1.33e5},{"x":2.1e17,"l":1.81e17,"h":2.46e17,"y":1.33e5},
{"x":9.2e16,"l":7.91e16,"h":1.08e17,"y":1.35e5},{"x":1.06e17,"l":9.12e16,"h":1.24e17,"y":1.35e5},{"x":1.28e17,"l":1.1e17,"h":1.5e17,"y":1.35e5},{"x":1.55e17,"l":1.33e17,"h":1.81e17,"y":1.35e5},{"x":1.8e17,"l":1.55e17,"h":2.11e17,"y":1.35e5},{"x":2.4e17,"l":2.06e17,"h":2.81e17,"y":1.35e5},
{"x":8.8e16,"l":7.57e16,"h":1.03e17,"y":1.37e5},{"x":1e17,"l":8.6e16,"h":1.17e17,"y":1.37e5},{"x":1.18e17,"l":1.01e17,"h":1.38e17,"y":1.37e5},{"x":1.45e17,"l":1.25e17,"h":1.7e17,"y":1.37e5},{"x":2e17,"l":1.72e17,"h":2.34e17,"y":1.37e5},
{"x":9.4e16,"l":8.08e16,"h":1.1e17,"y":1.39e5},{"x":1.1e17,"l":9.46e16,"h":1.29e17,"y":1.39e5},{"x":1.3e17,"l":1.12e17,"h":1.52e17,"y":1.39e5},{"x":1.6e17,"l":1.38e17,"h":1.87e17,"y":1.39e5},{"x":1.75e17,"l":1.51e17,"h":2.05e17,"y":1.39e5},{"x":2.2e17,"l":1.89e17,"h":2.57e17,"y":1.39e5},
{"x":9e16,"l":7.74e16,"h":1.05e17,"y":1.41e5},{"x":1.04e17,"l":8.94e16,"h":1.22e17,"y":1.41e5},{"x":1.22e17,"l":1.05e17,"h":1.43e17,"y":1.41e5},{"x":1.5e17,"l":1.29e17,"h":1.76e17,"y":1.41e5},{"x":1.9e17,"l":1.63e17,"h":2.22e17,"y":1.41e5},{"x":2.5e17,"l":2.15e17,"h":2.93e17,"y":1.41e5},
{"x":9.6e16,"l":8.26e16,"h":1.12e17,"y":1.43e5},{"x":1.14e17,"l":9.8e16,"h":1.33e17,"y":1.43e5},{"x":1.35e17,"l":1.16e17,"h":1.58e17,"y":1.43e5},{"x":1.65e17,"l":1.42e17,"h":1.93e17,"y":1.43e5},{"x":2.05e17,"l":1.76e17,"h":2.4e17,"y":1.43e5},
{"x":9.2e16,"l":7.91e16,"h":1.08e17,"y":1.45e5},{"x":1.08e17,"l":9.29e16,"h":1.26e17,"y":1.45e5},{"x":1.26e17,"l":1.08e17,"h":1.47e17,"y":1.45e5},{"x":1.55e17,"l":1.33e17,"h":1.81e17,"y":1.45e5},{"x":1.8e17,"l":1.55e17,"h":2.11e17,"y":1.45e5},{"x":2.3e17,"l":1.98e17,"h":2.69e17,"y":1.45e5},
{"x":1e17,"l":8.6e16,"h":1.17e17,"y":1.47e5},{"x":1.18e17,"l":1.01e17,"h":1.38e17,"y":1.47e5},{"x":1.4e17,"l":1.2e17,"h":1.64e17,"y":1.47e5},{"x":1.7e17,"l":1.46e17,"h":1.99e17,"y":1.47e5},{"x":2.1e17,"l":1.81e17,"h":2.46e17,"y":1.47e5},
{"x":9.4e16,"l":8.08e16,"h":1.1e17,"y":1.49e5},{"x":1.12e17,"l":9.63e16,"h":1.31e17,"y":1.49e5},{"x":1.3e17,"l":1.12e17,"h":1.52e17,"y":1.49e5},{"x":1.6e17,"l":1.38e17,"h":1.87e17,"y":1.49e5},{"x":1.95e17,"l":1.68e17,"h":2.28e17,"y":1.49e5},{"x":2.4e17,"l":2.06e17,"h":2.81e17,"y":1.49e5},
{"x":1.02e17,"l":8.77e16,"h":1.19e17,"y":1.51e5},{"x":1.22e17,"l":1.05e17,"h":1.43e17,"y":1.51e5},{"x":1.45e17,"l":1.25e17,"h":1.7e17,"y":1.51e5},{"x":1.75e17,"l":1.51e17,"h":2.05e17,"y":1.51e5},{"x":2.15e17,"l":1.85e17,"h":2.52e17,"y":1.51e5},
{"x":9.8e16,"l":8.43e16,"h":1.15e17,"y":1.53e5},{"x":1.16e17,"l":9.98e16,"h":1.36e17,"y":1.53e5},{"x":1.35e17,"l":1.16e17,"h":1.58e17,"y":1.53e5},{"x":1.65e17,"l":1.42e17,"h":1.93e17,"y":1.53e5},{"x":1.9e17,"l":1.63e17,"h":2.22e17,"y":1.53e5},{"x":2.6e17,"l":2.24e17,"h":3.04e17,"y":1.53e5},
{"x":8.8e16,"l":7.57e16,"h":1.03e17,"y":1.55e5},{"x":1.06e17,"l":9.12e16,"h":1.24e17,"y":1.55e5},{"x":1.26e17,"l":1.08e17,"h":1.47e17,"y":1.55e5},{"x":1.5e17,"l":1.29e17,"h":1.76e17,"y":1.55e5},{"x":1.8e17,"l":1.55e17,"h":2.11e17,"y":1.55e5},{"x":2.25e17,"l":1.94e17,"h":2.63e17,"y":1.55e5},
{"x":1.1e17,"l":9.46e16,"h":1.29e17,"y":1.57e5},{"x":1.3e17,"l":1.12e17,"h":1.52e17,"y":1.57e5},{"x":1.55e17,"l":1.33e17,"h":1.81e17,"y":1.57e5},{"x":1.85e17,"l":1.59e17,"h":2.16e17,"y":1.57e5},{"x":2e17,"l":1.72e17,"h":2.34e17,"y":1.57e5},{"x":2.4e17,"l":2.06e17,"h":2.81e17,"y":1.57e5},
{"x":8e16,"l":6.88e16,"h":9.36e16,"y":1.59e5},{"x":1.2e17,"l":1.03e17,"h":1.4e17,"y":1.59e5},{"x":1.4e17,"l":1.2e17,"h":1.64e17,"y":1.59e5},{"x":1.65e17,"l":1.42e17,"h":1.93e17,"y":1.59e5},{"x":1.95e17,"l":1.68e17,"h":2.28e17,"y":1.59e5},{"x":2.3e17,"l":1.98e17,"h":2.69e17,"y":1.59e5},
{"x":1.14e17,"l":9.8e16,"h":1.33e17,"y":1.61e5},{"x":1.35e17,"l":1.16e17,"h":1.58e17,"y":1.61e5},{"x":1.6e17,"l":1.38e17,"h":1.87e17,"y":1.61e5},{"x":1.75e17,"l":1.51e17,"h":2.05e17,"y":1.61e5},{"x":2.1e17,"l":1.81e17,"h":2.46e17,"y":1.61e5},
{"x":9.2e16,"l":7.91e16,"h":1.08e17,"y":1.63e5},{"x":1.25e17,"l":1.08e17,"h":1.46e17,"y":1.63e5},{"x":1.45e17,"l":1.25e17,"h":1.7e17,"y":1.63e5},{"x":1.7e17,"l":1.46e17,"h":1.99e17,"y":1.63e5},{"x":2e17,"l":1.72e17,"h":2.34e17,"y":1.63e5},{"x":2.5e17,"l":2.15e17,"h":2.93e17,"y":1.63e5},
{"x":1.18e17,"l":1.01e17,"h":1.38e17,"y":1.65e5},{"x":1.4e17,"l":1.2e17,"h":1.64e17,"y":1.65e5},{"x":1.55e17,"l":1.33e17,"h":1.81e17,"y":1.65e5},{"x":1.85e17,"l":1.59e17,"h":2.16e17,"y":1.65e5},{"x":2.2e17,"l":1.89e17,"h":2.57e17,"y":1.65e5},
{"x":8.5e16,"l":7.31e16,"h":9.95e16,"y":1.67e5},{"x":1.3e17,"l":1.12e17,"h":1.52e17,"y":1.67e5},{"x":1.5e17,"l":1.29e17,"h":1.76e17,"y":1.67e5},{"x":1.75e17,"l":1.51e17,"h":2.05e17,"y":1.67e5},{"x":2.05e17,"l":1.76e17,"h":2.4e17,"y":1.67e5},{"x":2.35e17,"l":2.02e17,"h":2.75e17,"y":1.67e5},
{"x":1.22e17,"l":1.05e17,"h":1.43e17,"y":1.69e5},{"x":1.45e17,"l":1.25e17,"h":1.7e17,"y":1.69e5},{"x":1.65e17,"l":1.42e17,"h":1.93e17,"y":1.69e5},{"x":1.9e17,"l":1.63e17,"h":2.22e17,"y":1.69e5},{"x":2.15e17,"l":1.85e17,"h":2.52e17,"y":1.69e5},
{"x":9.5e16,"l":8.17e16,"h":1.11e17,"y":1.71e5},{"x":1.35e17,"l":1.16e17,"h":1.58e17,"y":1.71e5},{"x":1.55e17,"l":1.33e17,"h":1.81e17,"y":1.71e5},{"x":1.8e17,"l":1.55e17,"h":2.11e17,"y":1.71e5},{"x":2.1e17,"l":1.81e17,"h":2.46e17,"y":1.71e5},{"x":2.45e17,"l":2.11e17,"h":2.87e17,"y":1.71e5},
{"x":1.26e17,"l":1.08e17,"h":1.47e17,"y":1.73e5},{"x":1.5e17,"l":1.29e17,"h":1.76e17,"y":1.73e5},{"x":1.7e17,"l":1.46e17,"h":1.99e17,"y":1.73e5},{"x":1.95e17,"l":1.68e17,"h":2.28e17,"y":1.73e5},
{"x":9e16,"l":7.74e16,"h":1.05e17,"y":1.75e5},{"x":1.4e17,"l":1.2e17,"h":1.64e17,"y":1.75e5},{"x":1.6e17,"l":1.38e17,"h":1.87e17,"y":1.75e5},{"x":1.85e17,"l":1.59e17,"h":2.16e17,"y":1.75e5},{"x":2.2e17,"l":1.89e17,"h":2.57e17,"y":1.75e5},
{"x":1.3e17,"l":1.12e17,"h":1.52e17,"y":1.77e5},{"x":1.55e17,"l":1.33e17,"h":1.81e17,"y":1.77e5},{"x":1.75e17,"l":1.51e17,"h":2.05e17,"y":1.77e5},{"x":2.05e17,"l":1.76e17,"h":2.4e17,"y":1.77e5},{"x":2.3e17,"l":1.98e17,"h":2.69e17,"y":1.77e5},
{"x":1.45e17,"l":1.25e17,"h":1.7e17,"y":1.79e5},{"x":1.65e17,"l":1.42e17,"h":1.93e17,"y":1.79e5},{"x":1.9e17,"l":1.63e17,"h":2.22e17,"y":1.79e5},{"x":2.15e17,"l":1.85e17,"h":2.52e17,"y":1.79e5},
{"x":1.35e17,"l":1.16e17,"h":1.58e17,"y":1.81e5},{"x":1.6e17,"l":1.38e17,"h":1.87e17,"y":1.81e5},{"x":1.8e17,"l":1.55e17,"h":2.11e17,"y":1.81e5},{"x":2e17,"l":1.72e17,"h":2.34e17,"y":1.81e5},
{"x":1.5e17,"l":1.29e17,"h":1.76e17,"y":1.84e5},{"x":1.7e17,"l":1.46e17,"h":1.99e17,"y":1.84e5},{"x":1.95e17,"l":1.68e17,"h":2.28e17,"y":1.84e5},{"x":2.25e17,"l":1.94e17,"h":2.63e17,"y":1.84e5},
{"x":1.4e17,"l":1.2e17,"h":1.64e17,"y":1.87e5},{"x":1.65e17,"l":1.42e17,"h":1.93e17,"y":1.87e5},{"x":1.85e17,"l":1.59e17,"h":2.16e17,"y":1.87e5},{"x":2.1e17,"l":1.81e17,"h":2.46e17,"y":1.87e5},
{"x":1.55e17,"l":1.33e17,"h":1.81e17,"y":1.9e5},{"x":1.75e17,"l":1.51e17,"h":2.05e17,"y":1.9e5},{"x":2e17,"l":1.72e17,"h":2.34e17,"y":1.9e5},
{"x":1.45e17,"l":1.25e17,"h":1.7e17,"y":1.93e5},{"x":1.8e17,"l":1.55e17,"h":2.11e17,"y":1.93e5},{"x":2.2e17,"l":1.89e17,"h":2.57e17,"y":1.93e5},
{"x":1.6e17,"l":1.38e17,"h":1.87e17,"y":1.96e5},{"x":1.9e17,"l":1.63e17,"h":2.22e17,"y":1.96e5},{"x":2.1e17,"l":1.81e17,"h":2.46e17,"y":1.96e5},
{"x":1.5e17,"l":1.29e17,"h":1.76e17,"y":1.99e5},{"x":1.7e17,"l":1.46e17,"h":1.99e17,"y":1.99e5},{"x":2e17,"l":1.72e17,"h":2.34e17,"y":1.99e5},
{"x":1.65e17,"l":1.42e17,"h":1.93e17,"y":2.03e5},{"x":1.95e17,"l":1.68e17,"h":2.28e17,"y":2.03e5},
{"x":1.55e17,"l":1.33e17,"h":1.81e17,"y":2.07e5},{"x":1.8e17,"l":1.55e17,"h":2.11e17,"y":2.07e5},{"x":2.3e17,"l":1.98e17,"h":2.69e17,"y":2.07e5},
{"x":1.7e17,"l":1.46e17,"h":1.99e17,"y":2.12e5},{"x":2e17,"l":1.72e17,"h":2.34e17,"y":2.12e5},
{"x":4.97e17,"l":4.27e17,"h":5.81e17,"y":7.24e5},
{"x":1.205e17,"l":1.04e17,"h":1.41e17,"y":6.62e5},
{"x":1.365e17,"l":1.17e17,"h":1.6e17,"y":6.65e5},
{"x":1.56e17,"l":1.34e17,"h":1.83e17,"y":6.58e5},
{"x":1.9e17,"l":1.63e17,"h":2.22e17,"y":6.35e5},
{"x":2.2e17,"l":1.89e17,"h":2.57e17,"y":6.21e5},
{"x":1.5e17,"l":1.29e17,"h":1.76e17,"y":5.55e5},
{"x":2.39e17,"l":2.06e17,"h":2.8e17,"y":5.37e5},
{"x":1.9e17,"l":1.63e17,"h":2.22e17,"y":4.82e5},
{"x":2.75e17,"l":2.37e17,"h":3.22e17,"y":4.49e5},
{"x":7.6e16,"l":6.54e16,"h":8.89e16,"y":4.94e5},
{"x":7.8e16,"l":6.71e16,"h":9.13e16,"y":4.57e5},
{"x":7e16,"l":6.02e16,"h":8.19e16,"y":4.16e5},
{"x":3.83e16,"l":3.29e16,"h":4.48e16,"y":3.65e5},
{"x":5.5e16,"l":4.73e16,"h":6.44e16,"y":3.56e5},
{"x":6.7e16,"l":5.76e16,"h":7.84e16,"y":3.56e5},
{"x":6.8e16,"l":5.85e16,"h":7.96e16,"y":3.37e5},
{"x":6.85e16,"l":5.89e16,"h":8.01e16,"y":3.19e5},
{"x":8e16,"l":6.88e16,"h":9.36e16,"y":3.78e5},
{"x":9.86e16,"l":8.48e16,"h":1.15e17,"y":3.74e5},
{"x":9.95e16,"l":8.56e16,"h":1.16e17,"y":3.48e5},
{"x":1.02e17,"l":8.77e16,"h":1.19e17,"y":3.67e5},
{"x":8.1e16,"l":6.97e16,"h":9.48e16,"y":3.13e5},
{"x":1.27e17,"l":1.09e17,"h":1.49e17,"y":3.82e5},
{"x":1.3e17,"l":1.12e17,"h":1.52e17,"y":3.96e5},
{"x":1.25e17,"l":1.08e17,"h":1.46e17,"y":3.24e5},
{"x":1.47e17,"l":1.26e17,"h":1.72e17,"y":3.4e5},
{"x":1.6e17,"l":1.38e17,"h":1.87e17,"y":3.36e5},
{"x":1.63e17,"l":1.4e17,"h":1.91e17,"y":3.46e5},
{"x":1.7e17,"l":1.46e17,"h":1.99e17,"y":3.08e5},
{"x":2.07e17,"l":1.78e17,"h":2.42e17,"y":3.85e5},
{"x":2.13e17,"l":1.83e17,"h":2.49e17,"y":3.71e5},
{"x":2e17,"l":1.72e17,"h":2.34e17,"y":3.24e5},
{"x":2.16e17,"l":1.86e17,"h":2.53e17,"y":3.43e5},
{"x":2.56e17,"l":2.2e17,"h":3e17,"y":3.34e5},
{"x":3.09e17,"l":2.66e17,"h":3.62e17,"y":3.43e5},
{"x":3.82e17,"l":3.29e17,"h":4.47e17,"y":2.79e5},
{"x":4.03e17,"l":3.47e17,"h":4.72e17,"y":2.36e5},
{"x":4.22e17,"l":3.63e17,"h":4.94e17,"y":2.29e5},
{"x":2.99e17,"l":2.57e17,"h":3.5e17,"y":2.77e5},
{"x":3.31e17,"l":2.85e17,"h":3.87e17,"y":2.64e5},
{"x":5.96e16,"l":5.13e16,"h":6.97e16,"y":2.6e5},
{"x":6.1e16,"l":5.25e16,"h":7.14e16,"y":2.58e5},
{"x":5.4e16,"l":4.64e16,"h":6.32e16,"y":2.09e5},
{"x":6.75e16,"l":5.81e16,"h":7.9e16,"y":2.01e5},
{"x":7e16,"l":6.02e16,"h":8.19e16,"y":1.94e5},
{"x":7.64e16,"l":6.57e16,"h":8.94e16,"y":2.52e5},
{"x":7.93e16,"l":6.82e16,"h":9.28e16,"y":2.71e5},
{"x":8.13e16,"l":6.99e16,"h":9.51e16,"y":2.38e5},
{"x":1.06e17,"l":9.12e16,"h":1.24e17,"y":2.74e5},
{"x":1.14e17,"l":9.8e16,"h":1.33e17,"y":2.71e5},
{"x":1.27e17,"l":1.09e17,"h":1.49e17,"y":2.81e5},
{"x":1.39e17,"l":1.2e17,"h":1.63e17,"y":2.95e5},
{"x":1.51e17,"l":1.3e17,"h":1.77e17,"y":2.87e5},
{"x":2.16e17,"l":1.86e17,"h":2.53e17,"y":2.64e5},
{"x":2.37e17,"l":2.04e17,"h":2.77e17,"y":2.29e5},
{"x":2.01e17,"l":1.73e17,"h":2.35e17,"y":2.75e5},
{"x":3.24e17,"l":2.79e17,"h":3.79e17,"y":2.58e5},
{"x":2.86e17,"l":2.46e17,"h":3.35e17,"y":2.52e5},
{"x":1.94e17,"l":1.67e17,"h":2.27e17,"y":2.42e5},
{"x":2.03e17,"l":1.75e17,"h":2.38e17,"y":2.38e5},
{"x":2.13e17,"l":1.83e17,"h":2.49e17,"y":2.36e5},
{"x":2.88e17,"l":2.48e17,"h":3.37e17,"y":2.35e5},
{"x":2.93e17,"l":2.52e17,"h":3.43e17,"y":2.27e5},
{"x":1.58e17,"l":1.36e17,"h":1.85e17,"y":2.33e5},
{"x":1.51e17,"l":1.3e17,"h":1.77e17,"y":2.17e5},
{"x":1.63e17,"l":1.4e17,"h":1.91e17,"y":2.17e5},
{"x":2.03e17,"l":1.75e17,"h":2.38e17,"y":2.17e5},
{"x":3.04e17,"l":2.61e17,"h":3.56e17,"y":2.21e5},
{"x":3.39e17,"l":2.92e17,"h":3.97e17,"y":2.16e5},
{"x":1.49e17,"l":1.28e17,"h":1.74e17,"y":2.06e5},
{"x":3.39e17,"l":2.92e17,"h":3.97e17,"y":1.95e5},
{"x":4.03e17,"l":3.47e17,"h":4.72e17,"y":1.63e5},
{"x":4.09e17,"l":3.52e17,"h":4.79e17,"y":1.53e5},
{"x":3.56e17,"l":3.06e17,"h":4.17e17,"y":1.5e5},
{"x":3.34e17,"l":2.87e17,"h":3.91e17,"y":1.4e5},
{"x":2.98e17,"l":2.56e17,"h":3.49e17,"y":1.47e5},
{"x":4.42e17,"l":3.8e17,"h":5.17e17,"y":1.39e5},
{"x":4.59e17,"l":3.95e17,"h":5.37e17,"y":1.31e5},
{"x":3.61e17,"l":3.1e17,"h":4.22e17,"y":1.28e5},
{"x":3.76e17,"l":3.23e17,"h":4.4e17,"y":1.27e5},
{"x":3.93e17,"l":3.38e17,"h":4.6e17,"y":1.25e5},
{"x":3.44e17,"l":2.96e17,"h":4.02e17,"y":1.22e5},
{"x":3.93e17,"l":3.38e17,"h":4.6e17,"y":1.17e5},
{"x":3.5e17,"l":3.01e17,"h":4.1e17,"y":1.13e5},
{"x":4.74e17,"l":4.08e17,"h":5.55e17,"y":1.11e5},
{"x":2.75e17,"l":2.37e17,"h":3.22e17,"y":1.1e5},
{"x":2.02e17,"l":1.74e17,"h":2.36e17,"y":9.55e4},
{"x":2.02e17,"l":1.74e17,"h":2.36e17,"y":8.89e4},
{"x":1.85e17,"l":1.59e17,"h":2.16e17,"y":8.58e4},
{"x":1.87e17,"l":1.61e17,"h":2.19e17,"y":7.93e4},
{"x":1.78e17,"l":1.53e17,"h":2.08e17,"y":7.43e4},
{"x":1.72e17,"l":1.48e17,"h":2.01e17,"y":7.17e4},
{"x":2.13e17,"l":1.83e17,"h":2.49e17,"y":7e4},
{"x":1.94e17,"l":1.67e17,"h":2.27e17,"y":6.67e4},
{"x":1.84e17,"l":1.58e17,"h":2.15e17,"y":6.37e4},
{"x":1.51e17,"l":1.3e17,"h":1.77e17,"y":6.39e4},
{"x":1.64e17,"l":1.41e17,"h":1.92e17,"y":5.62e4},
{"x":1.24e17,"l":1.07e17,"h":1.45e17,"y":5.26e4},
{"x":4.52e16,"l":3.89e16,"h":5.29e16,"y":1.34e5},
{"x":4.85e16,"l":4.17e16,"h":5.67e16,"y":1.39e5},
{"x":5.23e16,"l":4.5e16,"h":6.12e16,"y":1.39e5},
{"x":5.87e16,"l":5.05e16,"h":6.87e16,"y":1.41e5},
{"x":5.65e16,"l":4.86e16,"h":6.61e16,"y":1.21e5},
{"x":6.1e16,"l":5.25e16,"h":7.14e16,"y":1.25e5},
{"x":5.27e16,"l":4.53e16,"h":6.17e16,"y":1.11e5},
{"x":5.14e16,"l":4.42e16,"h":6.01e16,"y":1.04e5},
{"x":5.39e16,"l":4.64e16,"h":6.31e16,"y":1.05e5},
{"x":6.1e16,"l":5.25e16,"h":7.14e16,"y":1.11e5},
{"x":4.56e16,"l":3.92e16,"h":5.34e16,"y":8.79e4},
{"x":4.73e16,"l":4.07e16,"h":5.53e16,"y":9.06e4},
{"x":4.96e16,"l":4.27e16,"h":5.8e16,"y":9.21e4},
{"x":5.19e16,"l":4.46e16,"h":6.07e16,"y":9.55e4},
{"x":4.66e16,"l":4.01e16,"h":5.45e16,"y":8.36e4},
{"x":4.88e16,"l":4.2e16,"h":5.71e16,"y":8.28e4},
{"x":4.81e16,"l":4.14e16,"h":5.63e16,"y":7.93e4},
{"x":5.12e16,"l":4.4e16,"h":5.99e16,"y":7.98e4},
{"x":5.32e16,"l":4.58e16,"h":6.22e16,"y":7.57e4},
{"x":5.32e16,"l":4.58e16,"h":6.22e16,"y":6.8e4},
{"x":6.1e16,"l":5.25e16,"h":7.14e16,"y":6.49e4},
{"x":5.97e16,"l":5.13e16,"h":6.98e16,"y":6.73e4},
{"x":4.42e16,"l":3.8e16,"h":5.17e16,"y":6.15e4},
{"x":5.27e16,"l":4.53e16,"h":6.17e16,"y":5.59e4},
{"x":5.56e16,"l":4.78e16,"h":6.51e16,"y":5.16e4},
{"x":4.07e16,"l":3.5e16,"h":4.76e16,"y":4.89e4},
{"x":4.59e16,"l":3.95e16,"h":5.37e16,"y":4.89e4},
{"x":4.88e16,"l":4.2e16,"h":5.71e16,"y":4.79e4},
{"x":4.52e16,"l":3.89e16,"h":5.29e16,"y":4.09e4},
{"x":3.69e16,"l":3.17e16,"h":4.32e16,"y":3.79e4},
{"x":7.08e16,"l":6.09e16,"h":8.28e16,"y":5.43e4},
{"x":6.98e16,"l":6e16,"h":8.17e16,"y":5.78e4},
{"x":7.54e16,"l":6.48e16,"h":8.82e16,"y":6e4},
{"x":8.02e16,"l":6.9e16,"h":9.38e16,"y":5.93e4},
{"x":8.53e16,"l":7.34e16,"h":9.98e16,"y":5.89e4},
{"x":8.94e16,"l":7.69e16,"h":1.05e17,"y":5.78e4},
{"x":9.72e16,"l":8.36e16,"h":1.14e17,"y":6.17e4},
{"x":9.97e16,"l":8.57e16,"h":1.17e17,"y":5.73e4},
{"x":1.17e17,"l":1.01e17,"h":1.37e17,"y":5.69e4},
{"x":7.6e16,"l":6.54e16,"h":8.89e16,"y":4.97e4},
{"x":7.78e16,"l":6.69e16,"h":9.1e16,"y":4.76e4},
{"x":8.94e16,"l":7.69e16,"h":1.05e17,"y":5.24e4},
{"x":1.08e17,"l":9.29e16,"h":1.26e17,"y":5.26e4},
{"x":1.22e17,"l":1.05e17,"h":1.43e17,"y":5.35e4},
{"x":1.23e17,"l":1.06e17,"h":1.44e17,"y":5.16e4},
{"x":9.6e16,"l":8.26e16,"h":1.12e17,"y":6.73e4},
{"x":1.02e17,"l":8.77e16,"h":1.19e17,"y":6.57e4},
{"x":1.15e17,"l":9.89e16,"h":1.35e17,"y":6.64e4},
{"x":1.32e17,"l":1.14e17,"h":1.54e17,"y":6.49e4},
{"x":1.38e17,"l":1.19e17,"h":1.61e17,"y":6.49e4},
{"x":8.75e16,"l":7.53e16,"h":1.02e17,"y":3.61e5},
{"x":7.94e16,"l":6.83e16,"h":9.29e16,"y":2.87e5},
{"x":8.07e16,"l":6.94e16,"h":9.44e16,"y":2.74e5},
{"x":8.67e16,"l":7.46e16,"h":1.01e17,"y":2.71e5},
{"x":7.6e16,"l":6.54e16,"h":8.89e16,"y":2.55e5},
{"x":1.14e17,"l":9.8e16,"h":1.33e17,"y":2.58e5},
{"x":1.16e17,"l":9.98e16,"h":1.36e17,"y":2.81e5},
{"x":9.23e16,"l":7.94e16,"h":1.08e17,"y":2.48e5},
{"x":9.52e16,"l":8.19e16,"h":1.11e17,"y":2.4e5},
{"x":1.03e17,"l":8.86e16,"h":1.21e17,"y":2.35e5},
{"x":1.06e17,"l":9.12e16,"h":1.24e17,"y":2.42e5},
{"x":7.9e16,"l":6.79e16,"h":9.24e16,"y":2.44e5},
{"x":8.02e16,"l":6.9e16,"h":9.38e16,"y":2.19e5},
{"x":8.28e16,"l":7.12e16,"h":9.69e16,"y":2.35e5},
{"x":8.81e16,"l":7.58e16,"h":1.03e17,"y":2.23e5},
{"x":6.7e16,"l":5.76e16,"h":7.84e16,"y":2.19e5},
{"x":6.87e16,"l":5.91e16,"h":8.04e16,"y":2.06e5},
{"x":9.37e16,"l":8.06e16,"h":1.1e17,"y":2.23e5},
{"x":9.67e16,"l":8.32e16,"h":1.13e17,"y":2.1e5},
{"x":9.97e16,"l":8.57e16,"h":1.17e17,"y":1.99e5},
{"x":6.65e16,"l":5.72e16,"h":7.78e16,"y":1.99e5},
{"x":7.19e16,"l":6.18e16,"h":8.41e16,"y":1.9e5},
{"x":6.65e16,"l":5.72e16,"h":7.78e16,"y":1.87e5},
{"x":5.61e16,"l":4.82e16,"h":6.56e16,"y":1.44e5},
{"x":6.35e16,"l":5.46e16,"h":7.43e16,"y":1.48e5},
{"x":6.87e16,"l":5.91e16,"h":8.04e16,"y":1.57e5},
{"x":7.41e16,"l":6.37e16,"h":8.67e16,"y":1.6e5},
{"x":8.41e16,"l":7.23e16,"h":9.84e16,"y":1.66e5},
{"x":7.19e16,"l":6.18e16,"h":8.41e16,"y":1.36e5},
{"x":7.54e16,"l":6.48e16,"h":8.82e16,"y":1.36e5},
{"x":6.41e17,"l":5.51e17,"h":7.5e17,"y":5.16e5},
{"x":5.97e17,"l":5.13e17,"h":6.98e17,"y":4.98e5},
{"x":5.79e17,"l":4.98e17,"h":6.77e17,"y":4.85e5},
{"x":5.7e17,"l":4.9e17,"h":6.67e17,"y":4.73e5},
{"x":5.61e17,"l":4.82e17,"h":6.56e17,"y":4.44e5},
{"x":5.32e17,"l":4.58e17,"h":6.22e17,"y":4.31e5},
{"x":5.19e17,"l":4.46e17,"h":6.07e17,"y":4.25e5},
{"x":5.58e17,"l":4.8e17,"h":6.53e17,"y":4.16e5},
{"x":5.5e17,"l":4.73e17,"h":6.44e17,"y":4.02e5},
{"x":5.32e17,"l":4.58e17,"h":6.22e17,"y":3.87e5},
{"x":5.63e17,"l":4.84e17,"h":6.59e17,"y":3.87e5},
{"x":5.81e17,"l":5e17,"h":6.8e17,"y":3.92e5},
{"x":4.95e17,"l":4.26e17,"h":5.79e17,"y":3.69e5},
{"x":5.16e17,"l":4.44e17,"h":6.04e17,"y":3.65e5},
{"x":5.41e17,"l":4.65e17,"h":6.33e17,"y":3.74e5},
{"x":5.66e17,"l":4.87e17,"h":6.62e17,"y":3.58e5},
{"x":5.85e17,"l":5.03e17,"h":6.84e17,"y":3.58e5},
{"x":4.92e17,"l":4.23e17,"h":5.76e17,"y":3.4e5},
{"x":5.19e17,"l":4.46e17,"h":6.07e17,"y":3.52e5},
{"x":5.46e17,"l":4.7e17,"h":6.39e17,"y":3.52e5},
{"x":5.75e17,"l":4.95e17,"h":6.73e17,"y":3.55e5},
{"x":5.05e17,"l":4.34e17,"h":5.91e17,"y":3.47e5},
{"x":5.3e17,"l":4.56e17,"h":6.2e17,"y":3.43e5},
{"x":5.55e17,"l":4.77e17,"h":6.49e17,"y":3.66e5},
{"x":4.8e17,"l":4.13e17,"h":5.62e17,"y":3.6e5},
{"x":5.95e17,"l":5.12e17,"h":6.96e17,"y":3.72e5},
{"x":5.1e17,"l":4.39e17,"h":5.97e17,"y":3.84e5},
{"x":6e17,"l":5.16e17,"h":7.02e17,"y":4.65e5},
{"x":6.2e17,"l":5.33e17,"h":7.25e17,"y":4.95e5}
]
},
"hconcat":[
{
 "title":"(a)",
 "width":352,"height":352,
 "data":{"name":"a"},
 "layer":[
  {"mark":{"type":"rule","strokeWidth":1.6,"clip":true},
   "encoding":{
    "x":{"field":"l","type":"quantitative","scale":{"type":"log","domain":[1.43e15,2e17],"nice":false},
         "axis":{"title":"C²⁺ influx (m⁻² s⁻¹)","values":[2e15,3e15,4e15,5e15,6e15,7e15,8e15,9e15,1e16,2e16,3e16,4e16,5e16,6e16,7e16,8e16,9e16,1e17],
                 "labelExpr":"datum.value == 1e16 ? '10¹⁶' : datum.value == 1e17 ? '10¹⁷' : ''",
                 "tickSize":{"condition":{"test":"datum.value == 1e16 || datum.value == 1e17","value":-8},"value":-4.5},
                 "labelPadding":9.5,"titlePadding":3}},
    "x2":{"field":"h"},
    "y":{"field":"y","type":"quantitative","scale":{"type":"log","domain":[3.37e4,1.19e6],"nice":false},
         "axis":{"title":"Radiation Barrier (W)","values":[4e4,5e4,6e4,7e4,8e4,9e4,1e5,2e5,3e5,4e5,5e5,6e5,7e5,8e5,9e5,1e6],
                 "labelExpr":"datum.value == 1e5 ? '10⁵' : datum.value == 1e6 ? '10⁶' : ''",
                 "tickSize":{"condition":{"test":"datum.value == 1e5 || datum.value == 1e6","value":-9},"value":-4.7},
                 "labelPadding":8.5,"titlePadding":14}},
    "stroke":{"datum":"bar","type":"nominal","scale":{"domain":["bar","pt"],"range":["#1c1c1c","#000000"]},
      "legend":{"title":null,"orient":"none","legendX":19,"legendY":7,"padding":0,"labelFontSize":14,"labelFont":"Liberation Sans","labelColor":"#000","labelLimit":500,"labelOffset":5,"rowPadding":8,"symbolSize":484,"symbolStrokeWidth":1.3,
        "labelExpr":"datum.value == 'bar' ? 'Error bar: Tₑ = 5.2 ~ 6.7 (eV)' : ['Tₑ = 6 (eV) at the C²⁺ peak.', 'Correlation = 0.89983']",
        "encode":{"symbols":{"update":{"shape":{"signal":"datum.value == 'bar' ? 'stroke' : 'circle'"},"size":{"signal":"datum.value == 'bar' ? 484 : 42"},"fill":{"value":"transparent"},"stroke":{"signal":"datum.value == 'bar' ? '#808080' : '#000000'"}}},
                  "labels":{"update":{"lineHeight":{"value":15},"dy":{"signal":"datum.value == 'pt' ? -7.5 : 0"}}}}}}
   }},
  {"mark":{"type":"point","shape":"circle","filled":false,"size":50,"strokeWidth":0.9,"clip":true},
   "encoding":{
    "x":{"field":"x","type":"quantitative"},
    "y":{"field":"y","type":"quantitative"},
    "stroke":{"datum":"pt","type":"nominal"}
   }}
 ]
},
{
 "title":"(b)",
 "width":351,"height":352,
 "data":{"name":"b"},
 "resolve":{"axis":{"y":"independent"}},
 "layer":[
  {"mark":{"type":"rule","strokeWidth":1.5,"clip":true},
   "encoding":{
    "x":{"field":"l","type":"quantitative","scale":{"type":"log","domain":[2.71e16,7.18e17],"nice":false},
         "axis":{"title":"Be¹⁺ influx (m⁻² s⁻¹)","values":[3e16,4e16,5e16,6e16,7e16,8e16,9e16,1e17,2e17,3e17,4e17,5e17,6e17,7e17],
                 "labelExpr":"datum.value == 1e17 ? '10¹⁷' : ''",
                 "tickSize":{"condition":{"test":"datum.value == 1e17","value":-8},"value":-4.5},
                 "labelPadding":9.5,"titlePadding":3}},
    "x2":{"field":"h"},
    "y":{"field":"y","type":"quantitative","scale":{"type":"log","domain":[2.79e4,1.21e6],"nice":false},
         "axis":{"title":"Radiation Barrier (W)","values":[3e4,4e4,5e4,6e4,7e4,8e4,9e4,1e5,2e5,3e5,4e5,5e5,6e5,7e5,8e5,9e5,1e6],
                 "labelExpr":"datum.value == 1e5 ? '10⁵' : datum.value == 1e6 ? '10⁶' : ''",
                 "tickSize":{"condition":{"test":"datum.value == 1e5 || datum.value == 1e6","value":-9},"value":-4.7},
                 "labelPadding":8.5,"titlePadding":14}},
    "stroke":{"datum":"bar","type":"nominal","scale":{"domain":["bar","pt"],"range":["#ff4f4f","#ff0000"]},
      "legend":{"title":null,"orient":"none","legendX":19,"legendY":7,"padding":0,"labelFontSize":14,"labelFont":"Liberation Sans","labelColor":"#000","labelLimit":500,"labelOffset":5,"rowPadding":8,"symbolSize":484,"symbolStrokeWidth":1.3,
        "labelExpr":"datum.value == 'bar' ? 'Error bar: Tₑ = 1.5 ~ 1.9 (eV)' : ['Tₑ = 1.7 (eV) at the Be¹⁺ peak.', 'Correlation = 0.0061026']",
        "encode":{"symbols":{"update":{"shape":{"signal":"datum.value == 'bar' ? 'stroke' : 'circle'"},"size":{"signal":"datum.value == 'bar' ? 484 : 42"},"fill":{"value":"transparent"},"stroke":{"signal":"datum.value == 'bar' ? '#ff8c8c' : '#ff0000'"}}},
                  "labels":{"update":{"lineHeight":{"value":15},"dy":{"signal":"datum.value == 'pt' ? -7.5 : 0"}}}}}}
   }},
  {"mark":{"type":"point","shape":"circle","filled":false,"size":58,"strokeWidth":0.9,"clip":true},
   "encoding":{
    "x":{"field":"x","type":"quantitative"},
    "y":{"field":"y","type":"quantitative","axis":{"orient":"right","title":"JG12.30-2c","labels":false,"ticks":false,"domain":false,"titleFontSize":7.5,"titleColor":"#444","titleAngle":270,"titleAnchor":"start","titlePadding":3}},
    "stroke":{"datum":"pt","type":"nominal"}
   }}
 ]
}
]
}
